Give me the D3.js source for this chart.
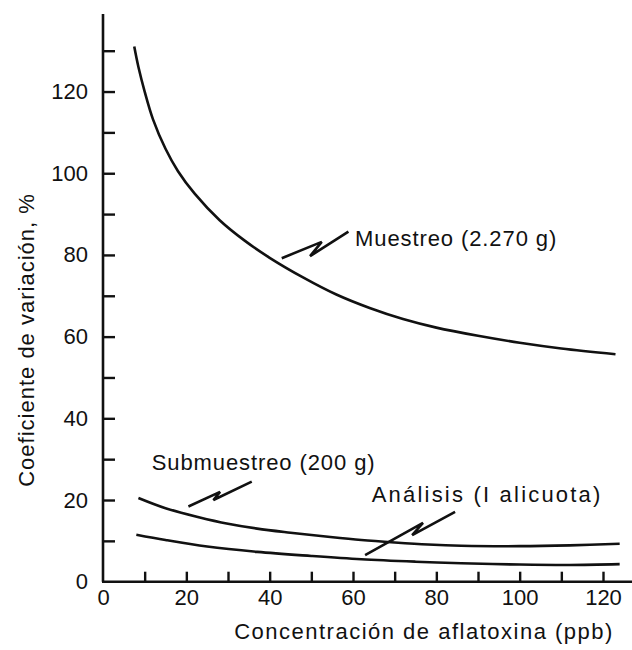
<!DOCTYPE html>
<head>
<meta charset="utf-8">
<script src="https://d3js.org/d3.v7.min.js"></script>
<style>
  body { margin: 0; background: #fff; }
  svg text { font-family: 'Liberation Sans', Arial, sans-serif; fill: #111; }
</style>
</head>
<body>
<div id="vis"></div>
<script>
// curves (x = ppb, y = CV %)
const muestreoX = [7.5, 8.5, 10, 12, 15, 18, 22, 28, 34, 40, 48, 56, 64, 72, 80, 90, 100, 110, 123]
const muestreoY = [131, 126, 120, 113.2, 106, 100.5, 95, 88.5, 83.5, 79.3, 74.5, 70.3, 67, 64.3, 62.2, 60.2, 58.5, 57.1, 55.7]

const submuestreoX = [8.5, 15, 23, 30, 37, 45, 54, 62, 70, 78, 86, 100, 112, 124]
const submuestreoY = [20.5, 18, 15.8, 14.2, 13, 12, 11, 10.2, 9.6, 9.1, 8.8, 8.7, 8.9, 9.3]

const analisisX = [8, 15, 25, 37, 50, 62, 75, 86, 100, 112, 124]
const analisisY = [11.5, 10.2, 8.6, 7.3, 6.3, 5.5, 4.9, 4.5, 4.2, 4.1, 4.3]

const xTickLabels = [0, 20, 40, 60, 80, 100, 120]
const yTickLabels = [0, 20, 40, 60, 80, 100, 120]
const xMinorTicks = d3.range(10, 121, 10)
const yMinorTicks = d3.range(10, 131, 10)

// labels with their zigzag leaders, in data units
const labelText = ['Muestreo (2.270 g)', 'Submuestreo (200 g)', 'Análisis (I alicuota)']
const labelPos = [[60.5, 82.2], [11.7, 27.3], [64.5, 19.6]]
const leaders = [
  [[42.9, 79.2], [52.5, 83.2], [49.7, 79.7], [58.9, 85.7]],
  [[20.5, 18.4], [28.1, 22.0], [26.5, 20.0], [35.7, 24.5]],
  [[62.9, 6.5], [76.8, 14.4], [74.2, 11.4], [84.5, 17.1]]
]

const width = 632
const height = 650

const x = d3.scaleLinear().domain([0, 120]).range([103, 603])
const y = d3.scaleLinear().domain([0, 130]).range([581.7, 50.7])

const svg = d3.select('#vis').append('svg')
  .attr('width', width)
  .attr('height', height)

// axis lines
svg.append('line')
  .attr('x1', x(0)).attr('x2', x(0))
  .attr('y1', y(0)).attr('y2', y(139))
  .attr('stroke', '#111').attr('stroke-width', 2.6)
svg.append('line')
  .attr('x1', x(0) - 1).attr('x2', x(127.6))
  .attr('y1', y(0)).attr('y2', y(0))
  .attr('stroke', '#111').attr('stroke-width', 2.6)

// inner ticks
const yTicks = svg.append('g')
  .attr('transform', `translate(${x(0)},0)`)
  .call(d3.axisRight(y).tickValues(yMinorTicks).tickSize(12).tickFormat(''))
const xTicks = svg.append('g')
  .attr('transform', `translate(0,${y(0)})`)
  .call(d3.axisTop(x).tickValues(xMinorTicks).tickSize(10).tickFormat(''))
yTicks.select('.domain').remove()
xTicks.select('.domain').remove()
svg.selectAll('.tick line').attr('stroke', '#111').attr('stroke-width', 2.4)

// tick labels
const yLab = svg.append('g')
  .attr('transform', `translate(${x(0)},0)`)
  .call(d3.axisLeft(y).tickValues(yTickLabels).tickSize(0).tickPadding(15))
const xLab = svg.append('g')
  .attr('transform', `translate(0,${y(0)})`)
  .call(d3.axisBottom(x).tickValues(xTickLabels).tickSize(0).tickPadding(8))
yLab.select('.domain').remove()
xLab.select('.domain').remove()
svg.selectAll('.tick text')
  .style('font-family', "'Liberation Sans', Arial, sans-serif")
  .style('font-size', '22px')
  .attr('fill', '#111')

// axis titles
svg.append('text')
  .attr('x', 424)
  .attr('y', 639)
  .attr('text-anchor', 'middle')
  .style('font-size', '22px')
  .style('letter-spacing', '1.5px')
  .text('Concentración de aflatoxina (ppb)')

svg.append('text')
  .attr('transform', 'translate(34,340) rotate(-90)')
  .attr('text-anchor', 'middle')
  .style('font-size', '22px')
  .style('letter-spacing', '1px')
  .text('Coeficiente de variación, %')

// curves
const line = d3.line()
  .x(d => x(d[0]))
  .y(d => y(d[1]))
  .curve(d3.curveCatmullRom.alpha(0.5))

const series = [
  d3.zip(muestreoX, muestreoY),
  d3.zip(submuestreoX, submuestreoY),
  d3.zip(analisisX, analisisY)
]

svg.selectAll('.curve')
  .data(series)
  .enter()
  .append('path')
  .attr('class', 'curve')
  .attr('d', line)
  .attr('fill', 'none')
  .attr('stroke', '#111')
  .attr('stroke-width', 2.6)

// leaders + labels
const leader = d3.line().x(d => x(d[0])).y(d => y(d[1]))
svg.selectAll('.leader')
  .data(leaders)
  .enter()
  .append('path')
  .attr('class', 'leader')
  .attr('d', leader)
  .attr('fill', 'none')
  .attr('stroke', '#111')
  .attr('stroke-width', 2.6)
  .attr('stroke-linejoin', 'miter')

svg.selectAll('.lbl')
  .data(labelText)
  .enter()
  .append('text')
  .attr('class', 'lbl')
  .attr('x', (d, i) => x(labelPos[i][0]))
  .attr('y', (d, i) => y(labelPos[i][1]))
  .style('font-size', '22px')
  .style('letter-spacing', (d, i) => i === 2 ? '2.2px' : '0.9px')
  .text(d => d)
</script>
</body>
</html>
